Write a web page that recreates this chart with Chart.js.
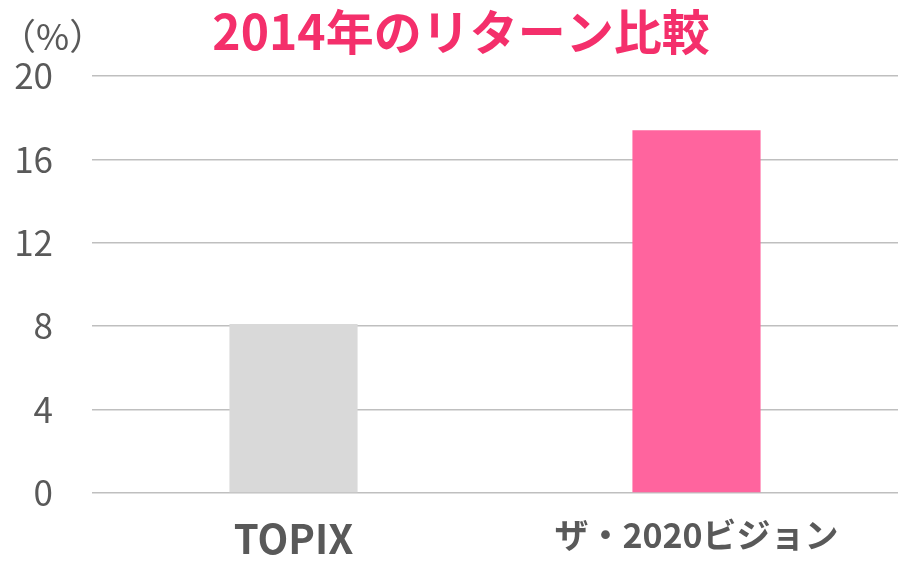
<!DOCTYPE html>
<html lang="ja">
<head>
<meta charset="utf-8">
<title>2014年のリターン比較</title>
<script src="https://cdn.jsdelivr.net/npm/chart.js@4/dist/chart.umd.min.js"></script>
<style>
  html, body { margin: 0; padding: 0; background: #fff; }
  #wrap { width: 898px; height: 561px; }
</style>
</head>
<body>
<div id="wrap"><canvas id="chart" width="898" height="561"></canvas></div>
<script>
// ── データ ────────────────────────────────────────────────
const CATEGORIES = ["TOPIX", "ザ・2020ビジョン"];
const RETURNS = [8.1, 17.4];
const BAR_COLORS = ["#d9d9d9", "#ff649e"];
const Y_TICKS = [0, 4, 8, 12, 16, 20];

const TITLE = "2014年のリターン比較";
const UNIT_LABEL = "（%）";
const FONT = "'Noto Sans CJK JP', 'Noto Sans', sans-serif";

// タイトルと単位ラベルを描く
const labelsPlugin = {
  id: "labels",
  afterDraw(chart) {
    const ctx = chart.ctx;
    ctx.save();
    ctx.textBaseline = "middle";
    ctx.fillStyle = "#f42f6b";
    ctx.font = "bold 48px " + FONT;
    ctx.textAlign = "center";
    ctx.fillText(TITLE, 461, 32);
    ctx.fillStyle = "#595959";
    ctx.font = "36px " + FONT;
    ctx.textAlign = "left";
    ctx.fillText(UNIT_LABEL, 0, 36);
    ctx.restore();
  },
};

new Chart(document.getElementById("chart"), {
  type: "bar",
  data: {
    labels: CATEGORIES,
    datasets: [
      {
        data: RETURNS,
        backgroundColor: BAR_COLORS,
        borderWidth: 0,
        categoryPercentage: 1,
        barPercentage: 0.318,
      },
    ],
  },
  options: {
    responsive: false,
    animation: false,
    layout: { padding: { top: 76, right: 0, left: 0, bottom: 0 } },
    plugins: {
      legend: { display: false },
      tooltip: { enabled: false },
    },
    scales: {
      x: {
        grid: { display: false },
        border: { display: false },
        ticks: {
          color: "#595959",
          // TOPIX は少し大きめ
          font: (c) => ({ family: FONT, size: c.index === 0 ? 40 : 34, weight: "bold" }),
          padding: 14,
        },
        afterFit(scale) {
          scale.height = 68;
        },
      },
      y: {
        min: 0,
        max: 20,
        afterBuildTicks(scale) {
          scale.ticks = Y_TICKS.map((v) => ({ value: v }));
        },
        grid: { color: "#bfbfbf", lineWidth: 1.5, drawTicks: false },
        border: { display: false },
        ticks: {
          color: "#595959",
          font: { family: FONT, size: 35 },
          padding: 39,
        },
        afterFit(scale) {
          scale.width = 92;
        },
      },
    },
  },
  plugins: [labelsPlugin],
});
</script>
</body>
</html>
